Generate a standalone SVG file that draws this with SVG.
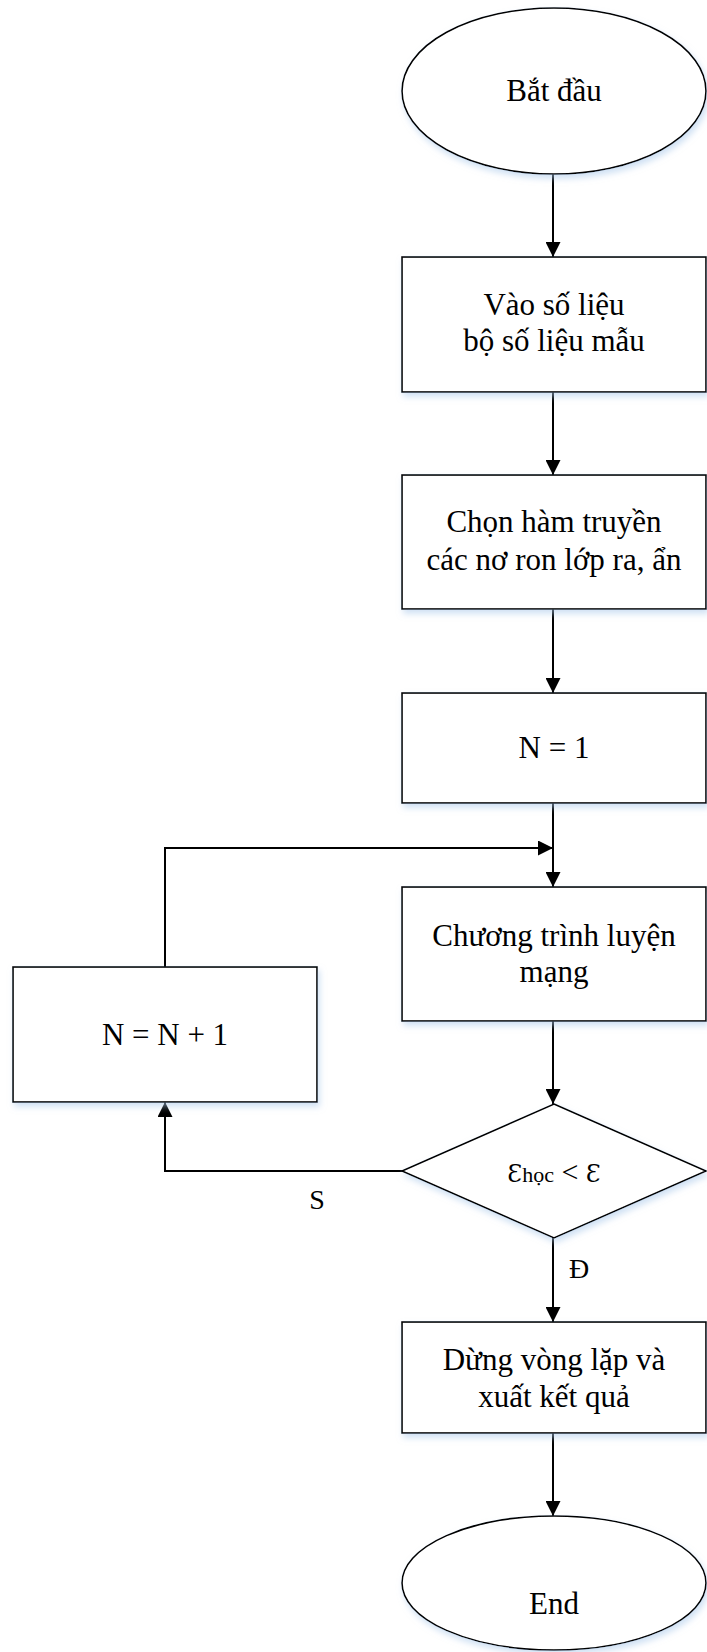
<svg xmlns="http://www.w3.org/2000/svg" width="707" height="1652" viewBox="0 0 707 1652" font-family="'Liberation Serif', 'DejaVu Serif', serif">
  <style>
    .shape { fill: #ffffff; stroke: #000000; stroke-width: 1.6; filter: url(#soft); }
    text { font-family: 'Liberation Serif', 'DejaVu Serif', serif; fill: #000000; }
    .lbl { font-size: 31px; text-anchor: middle; }
    .tag { font-size: 28px; text-anchor: middle; }
    .eps { font-family: 'DejaVu Serif', 'Liberation Serif', serif; font-size: 24px; }
    .edge { fill: none; stroke: #000000; stroke-width: 2; marker-end: url(#arrow); }
  </style>
  <defs>
    <filter id="soft" x="-10%" y="-10%" width="125%" height="130%">
      <feGaussianBlur in="SourceAlpha" stdDeviation="3"/>
      <feOffset dx="2" dy="4" result="blur"/>
      <feFlood flood-color="#a9c8ea" flood-opacity="0.55"/>
      <feComposite in2="blur" operator="in"/>
      <feMerge>
        <feMergeNode/>
        <feMergeNode in="SourceGraphic"/>
      </feMerge>
    </filter>
    <marker id="arrow" viewBox="0 0 15 15" refX="15" refY="7.5" markerWidth="15" markerHeight="15" markerUnits="userSpaceOnUse" orient="auto">
      <path d="M0,0 L15,7.5 L0,15 Z" fill="#000000"/>
    </marker>
  </defs>

  <!-- connectors -->
  <g id="connectors">
    <line class="edge" x1="553" y1="174" x2="553" y2="257"/>
    <line class="edge" x1="553" y1="392" x2="553" y2="475"/>
    <line class="edge" x1="553" y1="609" x2="553" y2="693"/>
    <line class="edge" x1="553" y1="803" x2="553" y2="887"/>
    <polyline class="edge" points="165,967 165,848 553,848"/>
    <line class="edge" x1="553" y1="1021" x2="553" y2="1104"/>
    <polyline class="edge" points="402,1171 165,1171 165,1102"/>
    <line class="edge" x1="553" y1="1238" x2="553" y2="1322"/>
    <line class="edge" x1="553" y1="1433" x2="553" y2="1516"/>
    <text class="tag" x="317" y="1209">S</text>
    <text class="tag" x="579" y="1278">Đ</text>
  </g>

  <!-- start -->
  <g id="start">
    <ellipse class="shape" cx="554" cy="91" rx="152" ry="83"/>
    <text class="lbl" x="554" y="101">Bắt đầu</text>
  </g>

  <!-- data input -->
  <g id="input">
    <rect class="shape" x="402" y="257" width="304" height="135"/>
    <text class="lbl" x="554" y="315">Vào số liệu</text>
    <text class="lbl" x="554" y="351">bộ số liệu mẫu</text>
  </g>

  <!-- transfer function choice -->
  <g id="transfer">
    <rect class="shape" x="402" y="475" width="304" height="134"/>
    <text class="lbl" x="554" y="532">Chọn hàm truyền</text>
    <text class="lbl" x="554" y="570">các nơ ron lớp ra, ẩn</text>
  </g>

  <!-- counter init -->
  <g id="init">
    <rect class="shape" x="402" y="693" width="304" height="110"/>
    <text class="lbl" x="554" y="758">N = 1</text>
  </g>

  <!-- training -->
  <g id="train">
    <rect class="shape" x="402" y="887" width="304" height="134"/>
    <text class="lbl" x="554" y="946">Chương trình luyện</text>
    <text class="lbl" x="554" y="982">mạng</text>
  </g>

  <!-- counter increment -->
  <g id="increment">
    <rect class="shape" x="13" y="967" width="304" height="135"/>
    <text class="lbl" x="165" y="1045">N = N + 1</text>
  </g>

  <!-- error test -->
  <g id="decision">
    <polygon class="shape" points="554,1104 706,1171 554,1238 402,1171"/>
    <text class="lbl" x="554" y="1182"><tspan class="eps">Ɛ</tspan><tspan font-size="22">học</tspan><tspan font-size="30"> &lt; </tspan><tspan class="eps">Ɛ</tspan></text>
  </g>

  <!-- stop and output -->
  <g id="stop">
    <rect class="shape" x="402" y="1322" width="304" height="111"/>
    <text class="lbl" x="554" y="1370">Dừng vòng lặp và</text>
    <text class="lbl" x="554" y="1407">xuất kết quả</text>
  </g>

  <!-- end -->
  <g id="end">
    <ellipse class="shape" cx="554" cy="1583" rx="152" ry="67"/>
    <text class="lbl" x="554" y="1614">End</text>
  </g>
</svg>
